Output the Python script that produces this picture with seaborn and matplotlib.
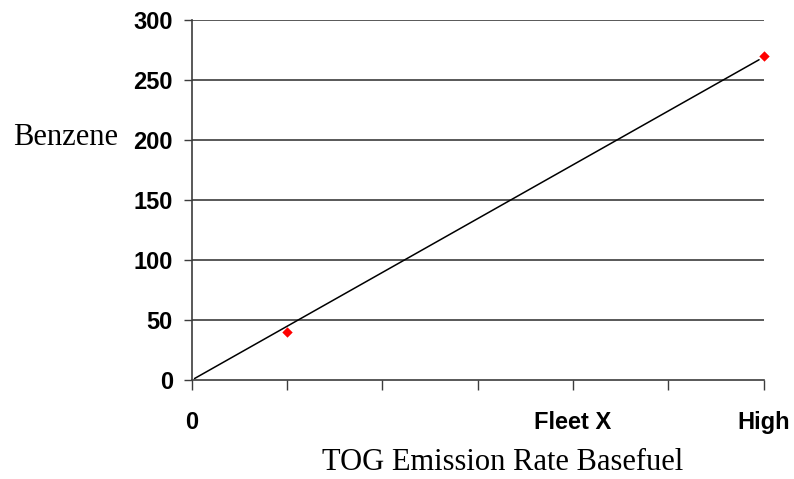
import seaborn as sns
import pandas as pd
import matplotlib.pyplot as plt

# data
pts_x = [1, 6]
pts_y = [40, 270]
trend_x = [0.03, 5.95]
trend_y = [1.5, 267]
tick_pos = [0, 1, 2, 3, 4, 5, 6]
tick_lab = ["0", "", "", "", "Fleet X", "", "High"]
y_ticks = [0, 50, 100, 150, 200, 250, 300]

sns.set_style("white")
plt.rcParams['font.family'] = ['Liberation Sans', 'DejaVu Sans']

pts = pd.DataFrame({"x": pts_x, "y": pts_y})
trend = pd.DataFrame({"x": trend_x, "y": trend_y})

fig = plt.figure(figsize=(7.94, 4.79), dpi=100)
ax = fig.add_axes([0.2414, 0.206, 0.7206, 0.752])

for v in y_ticks[1:]:
    ax.axhline(v, color="#3c3c3c", lw=1.2, zorder=1)

sns.lineplot(data=trend, x="x", y="y", color="black", lw=1.1, ax=ax, zorder=3)
sns.scatterplot(data=pts, x="x", y="y", marker="D", color="#ff0000", s=28,
                edgecolor="#ff0000", linewidth=0, ax=ax, zorder=4, clip_on=False)

ax.set_xlim(0, 6)
ax.set_ylim(0, 300)
ax.set_xticks(tick_pos)
ax.set_xticklabels(tick_lab, fontsize=17, fontweight="bold", color="black")
ax.set_yticks(y_ticks)
ax.set_yticklabels([str(v) for v in y_ticks], fontsize=17, fontweight="bold",
                   color="black")
ax.tick_params(axis="x", direction="out", length=7, width=1, color="#3c3c3c",
               pad=15, bottom=True)
ax.tick_params(axis="y", direction="out", length=6, width=1, color="#3c3c3c",
               pad=7.5, left=True)

for s in ["top", "right"]:
    ax.spines[s].set_visible(False)
for s in ["left", "bottom"]:
    ax.spines[s].set_color("#3c3c3c")
    ax.spines[s].set_linewidth(1.2)

ax.set_xlabel("")
ax.set_ylabel("")
fig.text(0.0164, 0.6973, "Benzene", family="Liberation Serif", fontsize=22,
         va="baseline", ha="left", color="black")
fig.text(0.4055, 0.0188, "TOG Emission Rate Basefuel", family="Liberation Serif",
         fontsize=22, va="baseline", ha="left", color="black")

fig.savefig("out.png", dpi=100)
